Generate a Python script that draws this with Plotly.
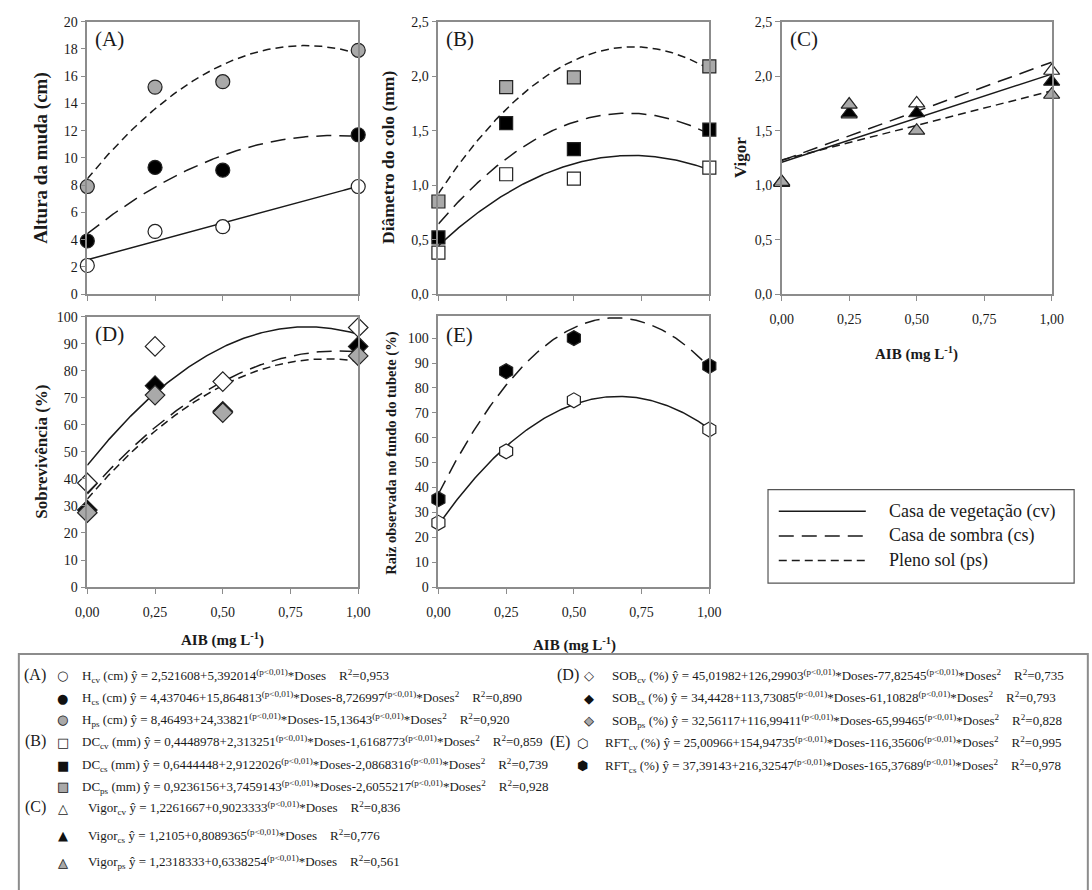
import numpy as np
import plotly.graph_objects as go

W, H = 1092, 890
FONT = "'Liberation Serif', 'Times New Roman', Times, serif"
SYMFONT = "'DejaVu Sans', sans-serif"
INK = "#1a1a1a"
AXIS = "#8c8c8c"
GRAY = "#a9a9a9"

# ---------------- data ----------------
doses = [0.0, 0.25, 0.5, 1.0]
dose_tickvals = [0.0, 0.25, 0.5, 0.75, 1.0]
dose_ticktext = ["0,00", "0,25", "0,50", "0,75", "1,00"]

# (A) Altura da muda (cm)
altura_cv = [2.1, 4.6, 4.95, 7.9]
altura_cs = [3.9, 9.3, 9.1, 11.7]
altura_ps = [7.9, 15.2, 15.6, 17.9]

# (B) Diâmetro do colo (mm)
diametro_cv = [0.38, 1.10, 1.06, 1.16]
diametro_cs = [0.52, 1.57, 1.33, 1.51]
diametro_ps = [0.85, 1.90, 1.99, 2.09]

# (C) Vigor
vigor_cv = [1.03, 1.65, 1.75, 2.05]
vigor_cs = [1.02, 1.66, 1.66, 1.95]
vigor_ps = [1.03, 1.74, 1.50, 1.83]

# (D) Sobrevivência (%)
sob_cv = [38.5, 89.0, 76.0, 96.0]
sob_cs = [28.5, 74.5, 65.0, 89.0]
sob_ps = [27.5, 71.0, 64.5, 85.5]

# (E) Raiz observada no fundo do tubete (%)
rft_cv = [25.8, 54.5, 75.0, 63.3]
rft_cs = [35.3, 86.7, 100.0, 88.8]

# fitted regressions, coefficients as printed (b0, b1[, b2]) and R²
eq_h_cv = ["2,521608", "5,392014"]
eq_h_cs = ["4,437046", "15,864813", "-8,726997"]
eq_h_ps = ["8,46493", "24,33821", "-15,13643"]
eq_dc_cv = ["0,4448978", "2,313251", "-1,6168773"]
eq_dc_cs = ["0,6444448", "2,9122026", "-2,0868316"]
eq_dc_ps = ["0,9236156", "3,7459143", "-2,6055217"]
eq_vig_cv = ["1,2261667", "0,9023333"]
eq_vig_cs = ["1,2105", "0,8089365"]
eq_vig_ps = ["1,2318333", "0,6338254"]
eq_sob_cv = ["45,01982", "126,29903", "-77,82545"]
eq_sob_cs = ["34,4428", "113,73085", "-61,10828"]
eq_sob_ps = ["32,56117", "116,99411", "-65,99465"]
eq_rft_cv = ["25,00966", "154,94735", "-116,35606"]
eq_rft_cs = ["37,39143", "216,32547", "-165,37689"]

r2_h = ["0,953", "0,890", "0,920"]
r2_dc = ["0,859", "0,739", "0,928"]
r2_vig = ["0,836", "0,776", "0,561"]
r2_sob = ["0,735", "0,793", "0,828"]
r2_rft = ["0,995", "0,978"]

legend_names = ["Casa de vegetação (cv)", "Casa de sombra (cs)", "Pleno sol (ps)"]

# ---------------- helpers ----------------
def num(s):
    return float(s.replace(",", "."))


def fitted(coefs, x):
    c = [num(v) for v in coefs]
    return sum(ci * x ** i for i, ci in enumerate(c))


def px(x):
    return x / W


def py(y):
    return 1 - y / H


SOLID = "solid"
LONG = "15px,8px"
SHORT = "8px,5px"

fig = go.Figure()
xgrid = np.linspace(0, 1, 201)

panels = [
    # axis suffix, series list: (values, coefs, dash, symbol, fill, size)
    ("", [
        (altura_cv, eq_h_cv, SOLID, "circle", "white", 14),
        (altura_cs, eq_h_cs, LONG, "circle", "black", 14),
        (altura_ps, eq_h_ps, SHORT, "circle", GRAY, 14),
    ]),
    ("2", [
        (diametro_cv, eq_dc_cv, SOLID, "square", "white", 13),
        (diametro_cs, eq_dc_cs, LONG, "square", "black", 13),
        (diametro_ps, eq_dc_ps, SHORT, "square", GRAY, 13),
    ]),
    ("3", [
        (vigor_cv, eq_vig_cv, LONG, "triangle-up", "white", 14),
        (vigor_cs, eq_vig_cs, SOLID, "triangle-up", "black", 14),
        (vigor_ps, eq_vig_ps, SHORT, "triangle-up", GRAY, 14),
    ]),
    ("4", [
        (sob_cv, eq_sob_cv, SOLID, "diamond", "white", 15),
        (sob_cs, eq_sob_cs, LONG, "diamond", "black", 15),
        (sob_ps, eq_sob_ps, SHORT, "diamond", GRAY, 15),
    ]),
    ("5", [
        (rft_cv, eq_rft_cv, SOLID, "hexagon", "white", 15),
        (rft_cs, eq_rft_cs, LONG, "hexagon", "black", 15),
    ]),
]

for suffix, series in panels:
    xa, ya = "x" + suffix, "y" + suffix
    for vals, coefs, dash, sym, fill, size in series:
        fig.add_trace(go.Scatter(
            x=xgrid, y=fitted(coefs, xgrid), mode="lines", xaxis=xa, yaxis=ya,
            line=dict(color=INK, width=1.5, dash=dash), hoverinfo="skip",
            showlegend=False))
    for vals, coefs, dash, sym, fill, size in series:
        fig.add_trace(go.Scatter(
            x=doses, y=vals, mode="markers", xaxis=xa, yaxis=ya, cliponaxis=False,
            marker=dict(symbol=sym, size=size, color=fill,
                        line=dict(color="#222222", width=1.2)),
            showlegend=False))

# ---------------- axes ----------------
def xaxis(domain, anchor, labels):
    return dict(domain=domain, anchor=anchor, range=[0, 1], showline=True,
                linecolor=AXIS, linewidth=1.5, mirror=True, ticks="outside",
                ticklen=5, tickwidth=1.2, tickcolor=AXIS, showgrid=False,
                zeroline=False, tickvals=dose_tickvals, ticktext=dose_ticktext,
                showticklabels=labels, ticklabelstandoff=6,
                tickfont=dict(family=FONT, size=14, color=INK))


def yaxis(domain, anchor, rng, vals, text):
    return dict(domain=domain, anchor=anchor, range=rng, showline=True,
                linecolor=AXIS, linewidth=1.5, mirror=True, ticks="outside",
                ticklen=5, tickwidth=1.2, tickcolor=AXIS, showgrid=False,
                zeroline=False, tickvals=vals, ticktext=text,
                tickfont=dict(family=FONT, size=14, color=INK))


top = [py(292), py(15)]
bottom = [py(590), py(314)]
colA = [px(77), px(354)]
colB = [px(436), px(713)]
colC = [px(787), px(1063)]

a_vals = list(range(0, 21, 2))
b_vals = [0, 0.5, 1.0, 1.5, 2.0, 2.5]
b_text = ["0,0", "0,5", "1,0", "1,5", "2,0", "2,5"]
d_vals = list(range(0, 101, 10))

fig.update_layout(
    xaxis=xaxis(colA, "y", False),
    yaxis=yaxis(top, "x", [0, 20], a_vals, [str(v) for v in a_vals]),
    xaxis2=xaxis(colB, "y2", False),
    yaxis2=yaxis(top, "x2", [0, 2.5], b_vals, b_text),
    xaxis3=xaxis(colC, "y3", True),
    yaxis3=yaxis(top, "x3", [0, 2.5], b_vals, b_text),
    xaxis4=xaxis(colA, "y4", True),
    yaxis4=yaxis([py(590), py(315)], "x4", [0, 100], d_vals, [str(v) for v in d_vals]),
    xaxis5=xaxis(colB, "y5", True),
    yaxis5=yaxis(bottom, "x5", [0, 109], d_vals, [str(v) for v in d_vals]),
)

# ---------------- annotations ----------------
ann = []


def text(x, y, s, size=14, xanchor="center", angle=0, color=INK, family=FONT):
    ann.append(dict(x=px(x), y=py(y), xref="paper", yref="paper", text=s,
                    showarrow=False, xanchor=xanchor, yanchor="middle",
                    textangle=angle, font=dict(family=family, size=size, color=color)))


# panel letters
for lx, ly, lab in [(83, 33, "(A)"), (442, 33, "(B)"), (793, 33, "(C)"),
                    (83, 333, "(D)"), (442, 334, "(E)")]:
    text(lx, ly, lab, size=21, xanchor="left")

# axis titles
text(30, 153, "<b>Altura da muda (cm)</b>", size=19, angle=-90)
text(385, 153, "<b>Diâmetro do colo (mm)</b>", size=17.5, angle=-90)
text(745, 153, "<b>Vigor</b>", size=17, angle=-90)
text(30, 452, "<b>Sobrevivência (%)</b>", size=17, angle=-90)
text(388, 454, "<b>Raiz observada no fundo do tubete (%)</b>", size=14.5, angle=-90)
xtitle = "<b>AIB (mg L<sup>-1</sup>)</b>"
text(925, 352, xtitle, size=15)
text(215, 643, xtitle, size=15)
text(575, 648, xtitle, size=15)

# line-style legend
shapes = [
    dict(type="rect", xref="paper", yref="paper", x0=px(773), x1=px(1086),
         y0=py(491), y1=py(586), line=dict(color="#555555", width=1.2)),
    dict(type="rect", xref="paper", yref="paper", x0=px(7), x1=px(1100),
         y0=py(658), y1=py(900), line=dict(color="#8c8c8c", width=2)),
]
for i, (name, dash) in enumerate(zip(legend_names, [SOLID, LONG, SHORT])):
    yy = 513 + i * 25
    shapes.append(dict(type="line", xref="paper", yref="paper", x0=px(784), x1=px(873),
                       y0=py(yy), y1=py(yy), line=dict(color=INK, width=1.5, dash=dash)))
    text(895, yy, name, size=18, xanchor="left")

# regression equations
SP = "\u00a0"
P = "<sup>(p&lt;0,01)</sup>"
EQ_SIZE = 13


def equation(label, unit, coefs, r2):
    s = f"{label}{unit} ŷ = {coefs[0]}+{coefs[1]}{P}*Doses"
    if len(coefs) > 2:
        s += f"{coefs[2]}{P}*Doses<sup>2</sup>"
    return s + SP * 4 + f"R<sup>2</sup>={r2}"


def glyph(x, y, filled, open_, fill):
    if fill == "white":
        text(x, y, open_, size=13, family=SYMFONT, color="#222222")
    elif fill == "black":
        text(x, y, filled, size=13, family=SYMFONT, color="#111111")
    else:
        text(x, y, filled, size=13, family=SYMFONT, color=GRAY)
        text(x, y, open_, size=13, family=SYMFONT, color="#222222")


def row(x_sym, x_txt, y, filled, open_, fill, s):
    glyph(x_sym, y, filled, open_, fill)
    text(x_txt, y, s, size=EQ_SIZE, xanchor="left")


fills = ["white", "black", GRAY]
left_rows = [
    ("(A)", 70, [("●", "○", eq_h_cv, r2_h[0], "H<sub>cv</sub>", " (cm)"),
                 ("●", "○", eq_h_cs, r2_h[1], "H<sub>cs</sub>", " (cm)"),
                 ("●", "○", eq_h_ps, r2_h[2], "H<sub>ps</sub>", " (cm)")], [680, 703, 725]),
    ("(B)", 70, [("■", "□", eq_dc_cv, r2_dc[0], "DC<sub>cv</sub>", " (mm)"),
                 ("■", "□", eq_dc_cs, r2_dc[1], "DC<sub>cs</sub>", " (mm)"),
                 ("■", "□", eq_dc_ps, r2_dc[2], "DC<sub>ps</sub>", " (mm)")], [748, 771, 793]),
    ("(C)", 76, [("▲", "△", eq_vig_cv, r2_vig[0], "Vigor<sub>cv</sub>", ""),
                 ("▲", "△", eq_vig_cs, r2_vig[1], "Vigor<sub>cs</sub>", ""),
                 ("▲", "△", eq_vig_ps, r2_vig[2], "Vigor<sub>ps</sub>", "")], [815, 843, 870]),
]
for lab, xt, items, ys in left_rows:
    text(24, ys[0] - 1, lab, size=16)
    for (f, o, co, r2, name, unit), yy, fl in zip(items, ys, fills):
        row(52, xt, yy, f, o, fl, equation(name, unit, co, r2))

right_rows = [
    ("(D)", 568, 590, 611, [("◆", "◇", eq_sob_cv, r2_sob[0], "SOB<sub>cv</sub>", " (%)"),
                            ("◆", "◇", eq_sob_cs, r2_sob[1], "SOB<sub>cs</sub>", " (%)"),
                            ("◆", "◇", eq_sob_ps, r2_sob[2], "SOB<sub>ps</sub>", " (%)")],
     [680, 703, 726]),
    ("(E)", 560, 583, 604, [("⬢", "⬡", eq_rft_cv, r2_rft[0], "RFT<sub>cv</sub>", " (%)"),
                            ("⬢", "⬡", eq_rft_cs, r2_rft[1], "RFT<sub>cs</sub>", " (%)")],
     [749, 772]),
]
for lab, xl, xs, xt, items, ys in right_rows:
    text(xl, ys[0] - 1, lab, size=16)
    for (f, o, co, r2, name, unit), yy, fl in zip(items, ys, fills):
        row(xs, xt, yy, f, o, fl, equation(name, unit, co, r2))

fig.update_layout(
    width=W, height=H, margin=dict(l=0, r=0, t=0, b=0),
    paper_bgcolor="white", plot_bgcolor="white",
    font=dict(family=FONT, color=INK), showlegend=False,
    annotations=ann, shapes=shapes,
)

fig.write_html("out.html")
